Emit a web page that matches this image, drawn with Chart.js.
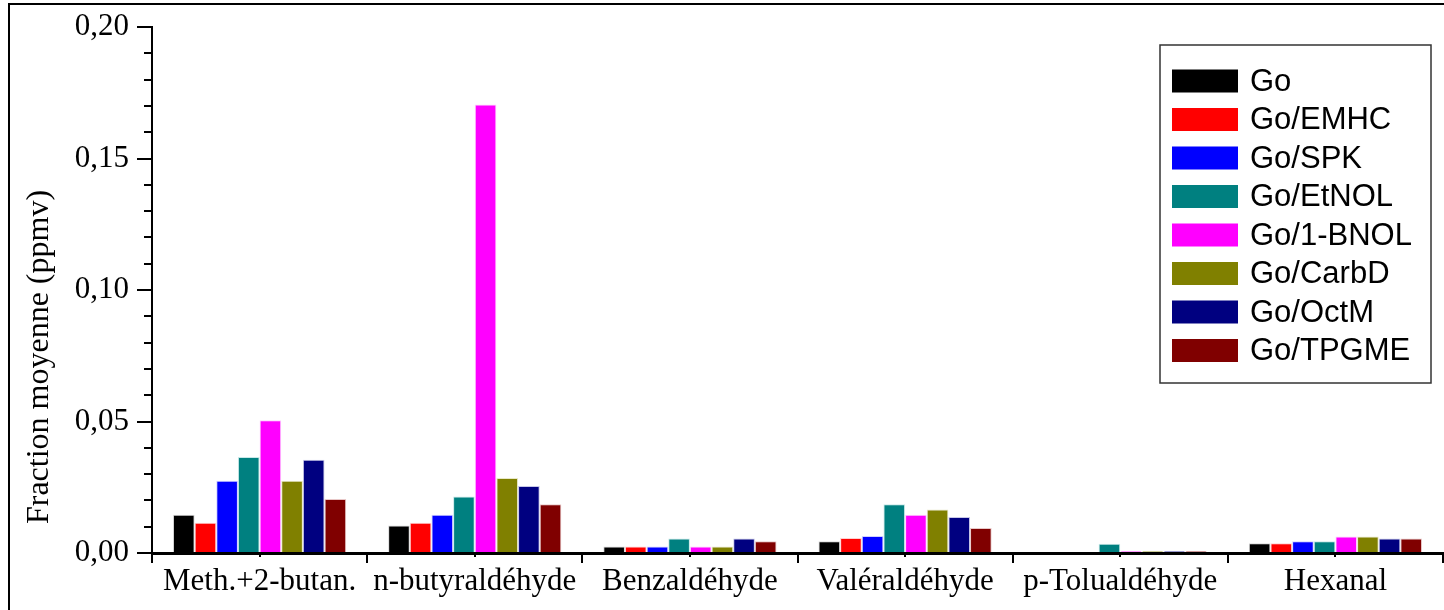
<!DOCTYPE html>
<html>
<head>
<meta charset="utf-8">
<script src="https://cdn.jsdelivr.net/npm/chart.js@4"></script>
<style>
  body { margin: 0; background: #fff; }
  #wrap { width: 1444px; height: 610px; position: relative; }
</style>
</head>
<body>
<div id="wrap"><canvas id="chart"></canvas></div>
<script>
const categories = ['Meth.+2-butan.', 'n-butyraldéhyde', 'Benzaldéhyde', 'Valéraldéhyde', 'p-Tolualdéhyde', 'Hexanal'];

const go       = [0.0145, 0.0105, 0.0025, 0.0045, 0,      0.0037];
const goEMHC   = [0.0115, 0.0115, 0.0025, 0.0057, 0,      0.0037];
const goSPK    = [0.0275, 0.0145, 0.0025, 0.0065, 0,      0.0045];
const goEtNOL  = [0.0365, 0.0215, 0.0055, 0.0185, 0.0035, 0.0045];
const go1BNOL  = [0.0505, 0.1705, 0.0025, 0.0145, 0.0007, 0.0063];
const goCarbD  = [0.0275, 0.0285, 0.0025, 0.0165, 0.0007, 0.0063];
const goOctM   = [0.0355, 0.0255, 0.0055, 0.0137, 0.0007, 0.0055];
const goTPGME  = [0.0205, 0.0185, 0.0045, 0.0095, 0.0007, 0.0055];

const seriesNames = ['Go', 'Go/EMHC', 'Go/SPK', 'Go/EtNOL', 'Go/1-BNOL', 'Go/CarbD', 'Go/OctM', 'Go/TPGME'];
const seriesValues = [go, goEMHC, goSPK, goEtNOL, go1BNOL, goCarbD, goOctM, goTPGME];
const seriesColors = ['#000000', '#FF0000', '#0000FF', '#008080', '#FF00FF', '#808000', '#000080', '#800000'];
const seriesEdges = ['#d8d8d8', '#ffd0d0', '#d0d0ff', '#c8e8e8', '#ffd0ff', '#e8e8c8', '#c8c8e8', '#e8c8c8'];

const yTicks = [0, 0.05, 0.10, 0.15, 0.20];
const yMinorTicks = [0.01, 0.02, 0.03, 0.04, 0.06, 0.07, 0.08, 0.09, 0.11, 0.12, 0.13, 0.14, 0.16, 0.17, 0.18, 0.19];
const yTitle = 'Fraction moyenne (ppmv)';

const serif = "'Liberation Serif', 'Times New Roman', serif";
const sans = "'Liberation Sans', Arial, sans-serif";

// frame round the figure, y title, minor ticks and the boxed legend
const decorations = {
  id: 'decorations',
  afterDraw(chart) {
    const ctx = chart.ctx;
    const area = chart.chartArea;
    const x = chart.scales.x;
    const y = chart.scales.y;

    ctx.save();
    ctx.strokeStyle = '#000';
    ctx.lineWidth = 2;
    ctx.beginPath();
    ctx.moveTo(9, 610);
    ctx.lineTo(9, 4);
    ctx.lineTo(1444, 4);
    ctx.stroke();

    // minor ticks
    ctx.lineWidth = 2;
    ctx.beginPath();
    yMinorTicks.forEach(v => {
      const py = Math.round(y.getPixelForValue(v));
      ctx.moveTo(area.left - 8, py);
      ctx.lineTo(area.left, py);
    });
    categories.forEach((c, i) => {
      const px = Math.round(x.getPixelForValue(i));
      ctx.moveTo(px, area.bottom);
      ctx.lineTo(px, area.bottom + 4);
    });
    ctx.stroke();

    // y axis title
    ctx.fillStyle = '#000';
    ctx.font = '32px ' + serif;
    ctx.textAlign = 'center';
    ctx.textBaseline = 'alphabetic';
    ctx.translate(48, 357);
    ctx.rotate(-Math.PI / 2);
    ctx.fillText(yTitle, 0, 0);
    ctx.restore();

    // legend
    ctx.save();
    ctx.strokeStyle = '#333';
    ctx.lineWidth = 1.5;
    ctx.strokeRect(1160, 45, 271, 338);
    ctx.font = '31px ' + sans;
    ctx.textAlign = 'left';
    ctx.textBaseline = 'middle';
    chart.data.datasets.forEach((ds, i) => {
      const cy = 81 + i * 38.5;
      ctx.fillStyle = ds.backgroundColor;
      ctx.fillRect(1172, cy - 11.5, 66, 23);
      ctx.fillStyle = '#000';
      ctx.fillText(ds.label, 1250, cy + 1);
    });
    ctx.restore();
  }
};

new Chart(document.getElementById('chart'), {
  type: 'bar',
  data: {
    labels: categories,
    datasets: seriesNames.map((name, i) => ({
      label: name,
      data: seriesValues[i],
      backgroundColor: seriesColors[i],
      borderColor: seriesEdges[i],
      borderWidth: 1,
      barPercentage: 1,
      categoryPercentage: 0.805
    }))
  },
  options: {
    responsive: true,
    maintainAspectRatio: false,
    animation: false,
    layout: { padding: { top: 27, right: 1, left: 0, bottom: 0 } },
    plugins: {
      legend: { display: false },
      tooltip: { enabled: false }
    },
    scales: {
      x: {
        afterFit(scale) { scale.height = 57; },
        border: { display: true, color: '#000', width: 3 },
        grid: { offset: true, drawOnChartArea: false, tickLength: 10, color: '#000', lineWidth: 2 },
        ticks: { color: '#000', padding: 0, maxRotation: 0, font: { family: serif, size: 31 } }
      },
      y: {
        min: 0,
        max: 0.20,
        afterFit(scale) { scale.width = 152; },
        afterBuildTicks(scale) { scale.ticks = yTicks.map(v => ({ value: v })); },
        border: { display: true, color: '#000', width: 2 },
        grid: { drawOnChartArea: false, tickLength: 15, color: '#000', lineWidth: 2 },
        ticks: {
          color: '#000',
          padding: 8,
          font: { family: serif, size: 31 },
          callback: v => v.toFixed(2).replace('.', ',')
        }
      }
    }
  },
  plugins: [decorations]
});
</script>
</body>
</html>
